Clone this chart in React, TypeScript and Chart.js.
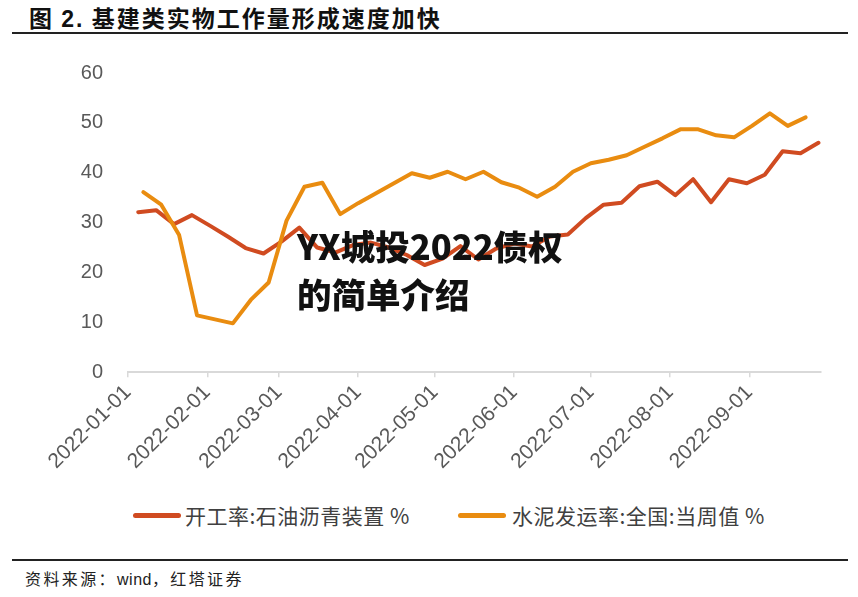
import React, { useEffect, useRef } from 'react';
import { Chart, registerables } from 'chart.js';

Chart.register(...registerables);

// ---- data ----
const axisStart = '2022-01-01';
const axisEnd = '2022-09-29';
const monthTicks = [
  '2022-01-01', '2022-02-01', '2022-03-01', '2022-04-01', '2022-05-01',
  '2022-06-01', '2022-07-01', '2022-08-01', '2022-09-01',
];
const yTicks = [0, 10, 20, 30, 40, 50, 60];

const asphaltLabel = '开工率:石油沥青装置 %';
const asphaltDates = [
  '2022-01-05', '2022-01-12', '2022-01-19', '2022-01-26',
  '2022-02-02', '2022-02-09', '2022-02-16', '2022-02-23',
  '2022-03-02', '2022-03-09', '2022-03-16', '2022-03-23', '2022-03-30',
  '2022-04-06', '2022-04-13', '2022-04-20', '2022-04-27',
  '2022-05-04', '2022-05-11', '2022-05-18', '2022-05-25',
  '2022-06-01', '2022-06-08', '2022-06-15', '2022-06-22', '2022-06-29',
  '2022-07-06', '2022-07-13', '2022-07-20', '2022-07-27',
  '2022-08-03', '2022-08-10', '2022-08-17', '2022-08-24', '2022-08-31',
  '2022-09-07', '2022-09-14', '2022-09-21', '2022-09-28',
];
const asphaltValues = [
  32.1, 32.5, 29.7, 31.5,
  29.4, 27.2, 24.9, 23.8,
  26.2, 29.0, 25.0, 24.0, 25.5,
  26.0, 25.0, 23.5, 21.5,
  22.8, 25.3, 22.6, 24.8,
  25.8, 25.2, 27.2, 27.6, 30.9,
  33.6, 34.0, 37.3, 38.2,
  35.5, 38.7, 34.1, 38.7, 37.9,
  39.6, 44.3, 43.9, 46.0,
];

const cementLabel = '水泥发运率:全国:当周值 %';
const cementDates = [
  '2022-01-07', '2022-01-14', '2022-01-21', '2022-01-28',
  '2022-02-04', '2022-02-11', '2022-02-18', '2022-02-25',
  '2022-03-04', '2022-03-11', '2022-03-18', '2022-03-25',
  '2022-04-01', '2022-04-08', '2022-04-15', '2022-04-22', '2022-04-29',
  '2022-05-06', '2022-05-13', '2022-05-20', '2022-05-27',
  '2022-06-03', '2022-06-10', '2022-06-17', '2022-06-24',
  '2022-07-01', '2022-07-08', '2022-07-15', '2022-07-22', '2022-07-29',
  '2022-08-05', '2022-08-12', '2022-08-19', '2022-08-26',
  '2022-09-02', '2022-09-09', '2022-09-16', '2022-09-23',
];
const cementValues = [
  36.1, 33.6, 27.5, 11.4,
  10.6, 9.8, 14.5, 18.0,
  30.4, 37.2, 38.0, 31.7,
  33.9, 35.9, 37.9, 39.9, 39.0,
  40.2, 38.7, 40.2, 38.1,
  37.0, 35.2, 37.2, 40.2,
  41.9, 42.6, 43.5, 45.2, 46.9,
  48.7, 48.7, 47.5, 47.1,
  49.4, 51.9, 49.4, 51.1,
];

const RED = '#d04b21';
const ORANGE = '#e98c10';
const TICK_COLOR = '#595959';

function dayOf(s: string): number {
  const [y, m, d] = s.split('-').map(Number);
  const [y0, m0, d0] = axisStart.split('-').map(Number);
  return (Date.UTC(y, m - 1, d) - Date.UTC(y0, m0 - 1, d0)) / 86400000;
}

export default function App() {
  const ref = useRef<HTMLCanvasElement | null>(null);

  useEffect(() => {
    document.body.style.margin = '0';
    const canvas = ref.current;
    if (!canvas) return;
    const chart = new Chart(canvas, {
      type: 'line',
      data: {
        datasets: [
          {
            label: asphaltLabel,
            data: asphaltDates.map((d, i) => ({ x: dayOf(d), y: asphaltValues[i] })),
            borderColor: RED,
            backgroundColor: RED,
            borderWidth: 4,
            pointRadius: 0,
            tension: 0,
            borderJoinStyle: 'round',
            borderCapStyle: 'round',
            order: 2,
          },
          {
            label: cementLabel,
            data: cementDates.map((d, i) => ({ x: dayOf(d), y: cementValues[i] })),
            borderColor: ORANGE,
            backgroundColor: ORANGE,
            borderWidth: 4,
            pointRadius: 0,
            tension: 0,
            borderJoinStyle: 'round',
            borderCapStyle: 'round',
            order: 1,
          },
        ],
      },
      options: {
        animation: false,
        responsive: false,
        maintainAspectRatio: false,
        layout: { padding: { left: 0, right: 37, top: 15, bottom: 0 } },
        plugins: {
          legend: { display: false },
          tooltip: { enabled: false },
        },
        scales: {
          x: {
            type: 'linear',
            min: dayOf(axisStart),
            max: dayOf(axisEnd),
            afterBuildTicks: (scale: any) => {
              scale.ticks = monthTicks.map((t) => ({ value: dayOf(t) }));
            },
            ticks: {
              autoSkip: false,
              minRotation: 45,
              maxRotation: 45,
              padding: 3,
              color: TICK_COLOR,
              font: { family: 'Liberation Sans, Arial, sans-serif', size: 21 },
              callback: (_v: any, i: number) => monthTicks[i],
            },
            grid: {
              display: true,
              drawOnChartArea: false,
              drawTicks: true,
              tickLength: 5,
              color: '#d9d9d9',
              lineWidth: 1.5,
            },
            border: { display: true, color: '#d9d9d9', width: 2 },
          },
          y: {
            min: yTicks[0],
            max: yTicks[yTicks.length - 1],
            afterBuildTicks: (scale: any) => {
              scale.ticks = yTicks.map((v) => ({ value: v }));
            },
            afterFit: (scale: any) => {
              scale.width = 128;
            },
            ticks: {
              padding: 25,
              color: TICK_COLOR,
              font: { family: 'Liberation Sans, Arial, sans-serif', size: 20 },
            },
            grid: { display: false, drawTicks: false },
            border: { display: false },
          },
        },
      },
    });
    return () => chart.destroy();
  }, []);

  const cjk = '"Noto Sans CJK SC", "Noto Sans", sans-serif';

  return (
    <div style={{ position: 'relative', width: 858, height: 597, background: '#fff', overflow: 'hidden' }}>
      <div
        style={{
          position: 'absolute', left: 29, top: 2, fontFamily: cjk, fontSize: 23,
          fontWeight: 700, letterSpacing: 2, color: '#111', whiteSpace: 'nowrap', lineHeight: '30px',
        }}
      >
        图 <span style={{ fontFamily: 'Liberation Sans, Arial, sans-serif' }}>2.</span> 基建类实物工作量形成速度加快
      </div>
      <div style={{ position: 'absolute', left: 12, top: 32, width: 836, height: 2, background: '#222' }} />

      <canvas ref={ref} width={858} height={441} style={{ position: 'absolute', left: 0, top: 36, width: 858, height: 441 }} />

      {/* legend */}
      <div style={{ position: 'absolute', left: 133, top: 513, width: 48, height: 5, borderRadius: 3, background: RED }} />
      <div style={{ position: 'absolute', left: 185, top: 501, fontFamily: cjk, fontSize: 21, color: '#404040', whiteSpace: 'nowrap', lineHeight: '28px', letterSpacing: 0.5 }}>
        {asphaltLabel}
      </div>
      <div style={{ position: 'absolute', left: 458, top: 513, width: 48, height: 5, borderRadius: 3, background: ORANGE }} />
      <div style={{ position: 'absolute', left: 512, top: 501, fontFamily: cjk, fontSize: 21, color: '#404040', whiteSpace: 'nowrap', lineHeight: '28px', letterSpacing: 0.5 }}>
        {cementLabel}
      </div>

      <div style={{ position: 'absolute', left: 12, top: 559, width: 836, height: 2, background: '#222' }} />
      <div style={{ position: 'absolute', left: 25, top: 567, fontFamily: cjk, fontSize: 16, color: '#222', whiteSpace: 'nowrap', lineHeight: '22px', letterSpacing: 2.4 }}>
        资料来源：<span style={{ fontFamily: 'Liberation Sans, Arial, sans-serif', letterSpacing: 0.5 }}>wind</span>，红塔证券
      </div>

      {/* overlaid watermark text */}
      <div style={{ position: 'absolute', left: 297, top: 221, fontFamily: cjk, fontSize: 34.5, fontWeight: 900, color: '#111', lineHeight: '48px', whiteSpace: 'nowrap' }}>
        YX城投2022债权<br />的简单介绍
      </div>
    </div>
  );
}
